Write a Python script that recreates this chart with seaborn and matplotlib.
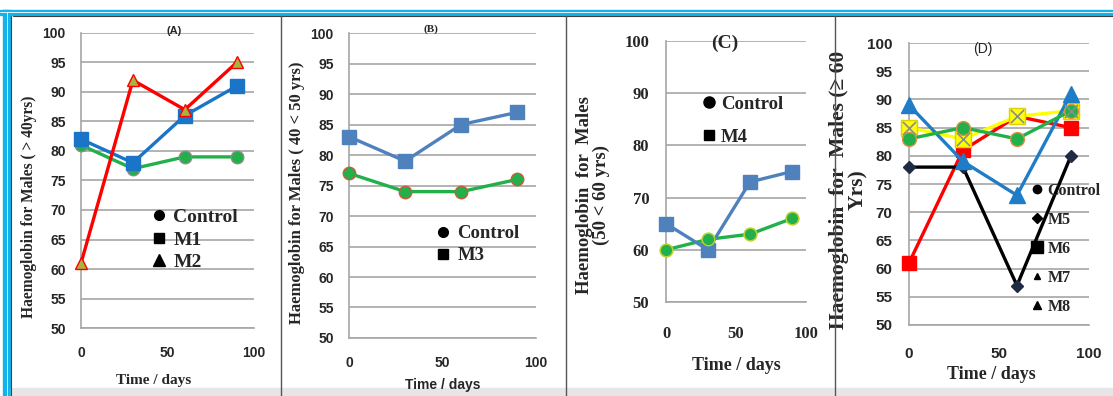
import matplotlib
matplotlib.use("Agg")
import matplotlib.pyplot as plt
from matplotlib.lines import Line2D
from matplotlib.patches import Rectangle
import seaborn as sns

# data
days = [0, 30, 60, 90]

a_control = [81, 77, 79, 79]
a_m1 = [82, 78, 86, 91]
a_m2 = [61, 92, 87, 95]

b_control = [77, 74, 74, 76]
b_m3 = [83, 79, 85, 87]

c_control = [60, 62, 63, 66]
c_m4 = [65, 60, 73, 75]

d_control = [83, 85, 83, 88]
d_m5 = [78, 78, 57, 80]
d_m6 = [61, 81, 87, 85]
d_m7 = [89, 79, 73, 91]
d_m8 = [85, 83, 87, 88]

sns.set_style("white")
plt.rcParams["font.family"] = ["Liberation Sans", "DejaVu Sans"]

SERIF = ["Liberation Serif", "DejaVu Serif"]
SANS = ["Liberation Sans", "DejaVu Sans"]
GRID = "#a6a6a6"
GREEN = "#22b04a"

fig = plt.figure(figsize=(11.13, 3.96), dpi=100)
fig.patch.set_facecolor("white")


def setup(ax, ymin, ymax, ystep, tickfont, tsize, xpad, ypad):
    ax.set_xlim(0, 100)
    ax.set_ylim(ymin, ymax)
    ax.set_xticks([0, 50, 100])
    ax.set_yticks(range(ymin, ymax + 1, ystep))
    ax.grid(axis="y", color=GRID, lw=1.2)
    ax.set_axisbelow(True)
    for s in ["top", "right"]:
        ax.spines[s].set_visible(False)
    for s in ["left", "bottom"]:
        ax.spines[s].set_color(GRID)
        ax.spines[s].set_linewidth(1.2)
    ax.tick_params(axis="x", direction="out", length=5, color=GRID, width=1.2, pad=xpad)
    ax.tick_params(axis="y", direction="out", length=4, color=GRID, width=1.2, pad=ypad)
    for lab in ax.get_xticklabels() + ax.get_yticklabels():
        lab.set_family(tickfont)
        lab.set_fontweight("bold")
        lab.set_fontsize(tsize)


def series(ax, y, color, marker, ms, mfc, mec, lw=2.4, mew=1.0):
    sns.lineplot(x=days, y=y, ax=ax, color=color, lw=lw, marker=marker,
                 markersize=ms, markerfacecolor=mfc, markeredgecolor=mec,
                 markeredgewidth=mew, clip_on=False, legend=False, zorder=3)


def key(ax, labels, markers, sizes, anchor, fsize, spacing, tpad=0.4):
    handles = [Line2D([], [], ls="none", marker=m, color="black", markersize=s)
               for m, s in zip(markers, sizes)]
    ax.legend(handles, labels, loc="upper left", bbox_to_anchor=anchor,
              frameon=False, handlelength=0.7, handletextpad=tpad,
              labelspacing=spacing, borderaxespad=0, borderpad=0,
              prop={"family": SERIF, "weight": "bold", "size": fsize})


# ---- panel A
ax = fig.add_axes([0.0728, 0.1717, 0.1554, 0.745])
series(ax, a_control, GREEN, "o", 9, GREEN, "#8a8a8a")
series(ax, a_m1, "#1a75c8", "s", 10, "#1a75c8", "#1a75c8")
series(ax, a_m2, "#ff0000", "^", 8, "#a8b43c", "#ff0000")
setup(ax, 50, 100, 5, SANS, 10, 8, 7)
ax.set_ylabel("Haemoglobin for Males ( > 40yrs)", family=SERIF, weight="bold", fontsize=11.2)
ax.yaxis.set_label_coords(-0.255, 0.41)
ax.set_xlabel("Time / days", family=SERIF, weight="bold", fontsize=11)
ax.xaxis.set_label_coords(0.42, -0.155)
ax.text(0.54, 1.007, "(A)", transform=ax.transAxes, ha="center", va="center",
        family=SANS, weight="bold", fontsize=8)
key(ax, ["Control", "M1", "M2"], ["o", "s", "^"], [7, 7, 8], (0.41, 0.405), 14, 0.25)

# ---- panel B
ax = fig.add_axes([0.3136, 0.1465, 0.168, 0.770])
series(ax, b_control, GREEN, "o", 9, GREEN, "#d05a3a")
series(ax, b_m3, "#4f81bd", "s", 10, "#4f81bd", "#4f81bd")
setup(ax, 50, 100, 5, SANS, 10, 8, 7)
ax.set_ylabel("Haemoglobin for Males ( 40 < 50 yrs)", family=SERIF, weight="bold", fontsize=12)
ax.yaxis.set_label_coords(-0.235, 0.475)
ax.set_xlabel("Time / days", family=SANS, weight="bold", fontsize=10)
ax.xaxis.set_label_coords(0.50, -0.13)
ax.text(0.44, 1.013, "(B)", transform=ax.transAxes, ha="center", va="center",
        family=SERIF, weight="bold", fontsize=8)
key(ax, ["Control", "M3"], ["o", "s"], [7, 7], (0.47, 0.37), 13.5, 0.25)

# ---- panel C
ax = fig.add_axes([0.5984, 0.2374, 0.1258, 0.659])
series(ax, c_control, GREEN, "o", 9, GREEN, "#b7d334")
series(ax, c_m4, "#4f81bd", "s", 10, "#4f81bd", "#4f81bd")
series(ax, c_control, GREEN, "o", 9, GREEN, "#b7d334", lw=0)
setup(ax, 50, 100, 10, SERIF, 12, 12, 8)
ax.set_ylabel("Haemoglobin  for  Males\n(50 < 60 yrs)", family=SERIF, weight="bold",
              fontsize=13.5, linespacing=0.95)
ax.yaxis.set_label_coords(-0.40, 0.41)
ax.set_xlabel("Time / days", family=SERIF, weight="bold", fontsize=13)
ax.xaxis.set_label_coords(0.50, -0.21)
ax.text(0.42, 0.992, "(C)", transform=ax.transAxes, ha="center", va="center",
        family=SERIF, weight="bold", fontsize=14)
key(ax, ["Control", "M4"], ["o", "s"], [8, 7], (0.26, 0.79), 13.5, 0.85, 0.3)

# ---- panel D
ax = fig.add_axes([0.8167, 0.1793, 0.1617, 0.712])
series(ax, d_m6, "#ff0000", "s", 10, "#ff0000", "#ff0000")
series(ax, d_m8, "#ffff00", "s", 11, "#ffff00", "#e0d000")
sns.scatterplot(x=days, y=d_m8, ax=ax, marker="x", s=90, color="#8c8c8c",
                linewidth=1.2, clip_on=False, zorder=4, legend=False)
series(ax, d_m5, "#000000", "D", 6, "#1f2a44", "#1f2a44")
series(ax, d_m7, "#1f7dc8", "^", 11, "#1f7dc8", "#1f7dc8")
series(ax, d_control, GREEN, "o", 10, GREEN, "#e0904a")
setup(ax, 50, 100, 5, SANS, 11, 11, 8)
ax.set_ylabel("Haemoglobin  for  Males (≥ 60\nYrs)", family=SERIF, weight="bold",
              fontsize=15.5, linespacing=0.95)
ax.yaxis.set_label_coords(-0.225, 0.48)
ax.set_xlabel("Time / days", family=SERIF, weight="bold", fontsize=13)
ax.xaxis.set_label_coords(0.46, -0.145)
ax.text(0.41, 0.98, "(D)", transform=ax.transAxes, ha="center", va="center",
        family=SANS, fontsize=10)
key(ax, ["Control", "M5", "M6", "M7", "M8"], ["o", "D", "s", "^", "^"],
    [6, 5, 8, 5, 6], (0.68, 0.505), 11.5, 0.82, 0.3)

# ---- frame decoration: cyan border and panel dividers
W, H = 1113, 396
fig.add_artist(Rectangle((0, (H - 15) / H), 1, 5 / H, transform=fig.transFigure,
                         color="#12b3ea", zorder=0))
fig.add_artist(Line2D([0, 1], [(H - 12) / H] * 2, transform=fig.transFigure,
                      color="white", lw=0.6))
fig.add_artist(Line2D([0.012, 1], [(H - 16) / H] * 2, transform=fig.transFigure,
                      color="#404040", lw=0.8))
fig.add_artist(Rectangle((3 / W, 0), 7 / W, (H - 10) / H, transform=fig.transFigure,
                         color="#12b3ea", zorder=0))
fig.add_artist(Line2D([7 / W] * 2, [0, (H - 12) / H], transform=fig.transFigure,
                      color="white", lw=0.6))
fig.add_artist(Line2D([11 / W] * 2, [0, (H - 16) / H], transform=fig.transFigure,
                      color="#404040", lw=0.8))
for xp in [281, 566, 835]:
    fig.add_artist(Line2D([xp / W] * 2, [0, (H - 16) / H], transform=fig.transFigure,
                          color="#555555", lw=1.0))
fig.add_artist(Rectangle((11 / W, 0), 1, 8 / H, transform=fig.transFigure,
                         color="#e6e6e6", zorder=0))

fig.savefig("out.png", dpi=100)
